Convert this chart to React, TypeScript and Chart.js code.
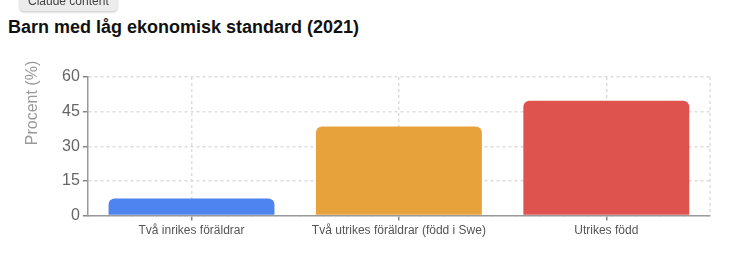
import React, { useEffect, useRef } from "react";
import { Chart, registerables } from "chart.js";

Chart.register(...registerables);

const categories = ["Två inrikes föräldrar", "Två utrikes föräldrar (född i Swe)", "Utrikes född"];
const values = [7.4, 38.6, 49.7];
const barColors = ["#4E84EF", "#E8A23B", "#DF534F"];
const yTicks = [0, 15, 30, 45, 60];
const titleText = "Barn med låg ekonomisk standard (2021)";
const yTitle = "Procent (%)";

const FONT = "'Liberation Sans', Arial, Helvetica, sans-serif";

const extrasPlugin = {
  id: "extrasPlugin",
  beforeDatasetsDraw(chart: any) {
    const { ctx, chartArea } = chart;
    ctx.save();
    ctx.strokeStyle = "#dddddd";
    ctx.lineWidth = 1.5;
    ctx.setLineDash([3, 3]);
    ctx.beginPath();
    ctx.moveTo(chartArea.right, chartArea.top);
    ctx.lineTo(chartArea.right, chartArea.bottom);
    ctx.stroke();
    ctx.restore();
  },
  afterDraw(chart: any) {
    const { ctx, chartArea } = chart;
    ctx.save();
    ctx.font = `16px ${FONT}`;
    ctx.fillStyle = "#999999";
    ctx.textAlign = "center";
    ctx.textBaseline = "middle";
    ctx.translate(chartArea.left - 55, chartArea.top + 26);
    ctx.rotate(-Math.PI / 2);
    ctx.fillText(yTitle, 0, 0);
    ctx.restore();
  },
};

export default function App() {
  const ref = useRef<HTMLCanvasElement | null>(null);

  useEffect(() => {
    if (!ref.current) return;
    const chart = new Chart(ref.current, {
      type: "bar",
      data: {
        labels: categories,
        datasets: [
          {
            data: values,
            backgroundColor: barColors,
            borderRadius: { topLeft: 6, topRight: 6, bottomLeft: 0, bottomRight: 0 },
            borderSkipped: false,
            barPercentage: 1,
            categoryPercentage: 0.8,
          },
        ],
      },
      options: {
        animation: false,
        responsive: true,
        maintainAspectRatio: false,
        layout: { padding: { left: 51, right: 12, top: 29, bottom: 0 } },
        plugins: {
          legend: { display: false },
          tooltip: { enabled: false },
          title: { display: false },
        },
        scales: {
          x: {
            grid: {
              offset: false,
              color: "#dddddd",
              lineWidth: 1.5,
              tickColor: "#888888",
              tickLength: 5,
              tickBorderDash: [],
              drawTicks: true,
            },
            border: { display: true, color: "#999999", width: 1.5, dash: [3, 3] },
            ticks: {
              color: "#555555",
              font: { size: 12, family: FONT },
              padding: 3,
              maxRotation: 0,
            },
          },
          y: {
            min: 0,
            max: 60,
            afterBuildTicks: (axis: any) => {
              axis.ticks = yTicks.map((v) => ({ value: v }));
            },
            grid: {
              color: "#dddddd",
              lineWidth: 1.5,
              tickColor: "#888888",
              tickLength: 5,
              tickBorderDash: [],
              drawTicks: true,
            },
            border: { display: true, color: "#999999", width: 1.5, dash: [3, 3] },
            ticks: {
              color: "#666666",
              font: { size: 16, family: FONT },
              padding: 3,
            },
          },
        },
      } as any,
      plugins: [extrasPlugin],
    });
    return () => chart.destroy();
  }, []);

  return (
    <div style={{ position: "relative", fontFamily: FONT }}>
      <div
        style={{
          position: "fixed",
          top: -8,
          left: 20,
          height: 19,
          lineHeight: "19px",
          padding: "0 8px",
          fontSize: 12,
          color: "#444",
          background: "#ececec",
          borderRadius: 4,
          boxShadow: "0 1px 3px rgba(0,0,0,0.25)",
        }}
      >
        Claude content
      </div>
      <div
        style={{
          margin: "8px 0 0 0",
          fontSize: 18,
          lineHeight: "22px",
          fontWeight: "bold",
          color: "#111",
        }}
      >
        {titleText}
      </div>
      <div style={{ position: "relative", width: "100%", height: 193, marginTop: 10 }}>
        <canvas ref={ref} />
      </div>
    </div>
  );
}
